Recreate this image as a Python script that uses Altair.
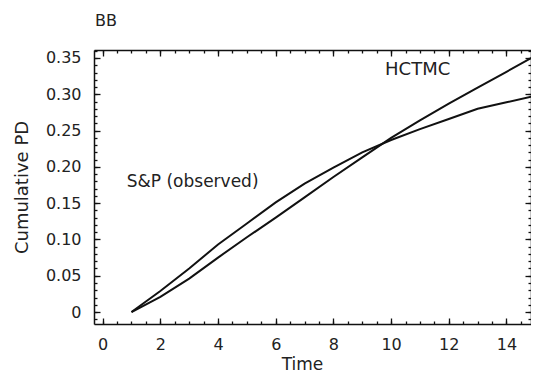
import altair as alt
import pandas as pd

# ---- data ----
time = [1, 2, 3, 4, 5, 6, 7, 8, 9, 10, 11, 12, 13, 14, 15]
hctmc = [0.0, 0.021, 0.046, 0.075, 0.103, 0.130, 0.158, 0.186, 0.213, 0.240,
         0.264, 0.287, 0.309, 0.331, 0.353]
sp_observed = [0.0, 0.029, 0.060, 0.093, 0.122, 0.151, 0.177, 0.199, 0.220,
               0.237, 0.252, 0.266, 0.280, 0.289, 0.298]

x_major = [0, 2, 4, 6, 8, 10, 12, 14]
x_minor = [v / 2 for v in range(0, 30)]
y_major = [0, 0.05, 0.10, 0.15, 0.20, 0.25, 0.30, 0.35]
y_minor = [v / 100 for v in range(-1, 37)]

ann_text = ["HCTMC", "S&P (observed)"]
ann_x = [10.92, 3.12]
ann_y = [0.333, 0.179]

df = pd.DataFrame({
    "Time": time * 2,
    "PD": hctmc + sp_observed,
    "series": ["HCTMC"] * len(time) + ["S&P (observed)"] * len(time),
})
ann = pd.DataFrame({"label": ann_text, "x": ann_x, "y": ann_y})

FONT = "DejaVu Sans"
INK = "#222222"
LINE = "#111111"
xs = alt.Scale(domain=[-0.3, 14.85], nice=False, zero=False)
ys = alt.Scale(domain=[-0.0165, 0.361], nice=False, zero=False)

base = alt.Chart(df)


def tick_axis(orient, values, size):
    return alt.Axis(orient=orient, values=values, tickSize=size, offset=-size,
                    labels=False, domain=False, title=None, ticks=True,
                    tickColor=LINE, tickWidth=1.3, grid=False)


def frame_axis(orient):
    return alt.Axis(orient=orient, labels=False, ticks=False, domain=True,
                    domainColor=LINE, domainWidth=1.5, title=None, grid=False)


lines = base.mark_line(color=LINE, strokeWidth=2, clip=True).encode(
    x=alt.X("Time:Q", scale=xs, axis=alt.Axis(
        orient="bottom", values=x_major, ticks=False, domain=True,
        domainColor=LINE, domainWidth=1.5, grid=False,
        labelPadding=12, labelFontSize=16, labelColor=INK, labelFont=FONT,
        title="Time", titleFontSize=17, titleFont=FONT, titleColor=INK,
        titleFontWeight="normal", titleX=208, titleY=45,
        titleAlign="center", titleBaseline="alphabetic")),
    y=alt.Y("PD:Q", scale=ys, axis=alt.Axis(
        orient="left", values=y_major, ticks=False, domain=True,
        domainColor=LINE, domainWidth=1.5, grid=False,
        labelPadding=13, labelFontSize=16, labelColor=INK, labelFont=FONT,
        labelExpr="datum.value == 0 ? '0' : format(datum.value, '.2f')",
        title="Cumulative PD", titleFontSize=18, titleFont=FONT, titleColor=INK,
        titleFontWeight="normal", titleX=-67, titleY=137, titleAngle=270,
        titleAlign="center", titleBaseline="alphabetic")),
    detail="series:N",
)


def ghost(xaxis, yaxis):
    return base.mark_line(strokeOpacity=0, clip=True).encode(
        x=alt.X("Time:Q", scale=xs, axis=xaxis),
        y=alt.Y("PD:Q", scale=ys, axis=yaxis),
        detail="series:N",
    )


g1 = ghost(tick_axis("bottom", x_major, 6), tick_axis("left", y_major, 6))
g2 = ghost(tick_axis("bottom", x_minor, 3), tick_axis("left", y_minor, 3))
g3 = ghost(tick_axis("top", x_major, 6), tick_axis("right", y_major, 6))
g4 = ghost(tick_axis("top", x_minor, 3), tick_axis("right", y_minor, 3))
g5 = ghost(frame_axis("top"), frame_axis("right"))

labels = alt.Chart(ann).mark_text(
    font=FONT, color=INK, align="center", baseline="middle"
).encode(
    x=alt.X("x:Q", scale=xs, axis=None),
    y=alt.Y("y:Q", scale=ys, axis=None),
    text="label:N",
    size=alt.value(17),
)

labels_h = labels.transform_filter(alt.datum.label == "HCTMC").encode(size=alt.value(18))
labels_s = labels.transform_filter(alt.datum.label != "HCTMC")

chart = alt.layer(lines, g1, g2, g3, g4, g5, labels_h, labels_s).resolve_axis(
    x="independent", y="independent"
).properties(
    width=437, height=274,
    autosize=alt.AutoSizeParams(type="none"),
    padding={"left": 86, "top": 42, "right": 0, "bottom": 48},
    title=alt.TitleParams("BB", anchor="start", frame="group", fontSize=16,
                          font=FONT, color=INK, fontWeight="normal",
                          offset=20, dx=1),
).configure_view(
    stroke=None
).configure(background="white")

chart.save("out.html", embed_options={"renderer": "svg", "actions": False})
